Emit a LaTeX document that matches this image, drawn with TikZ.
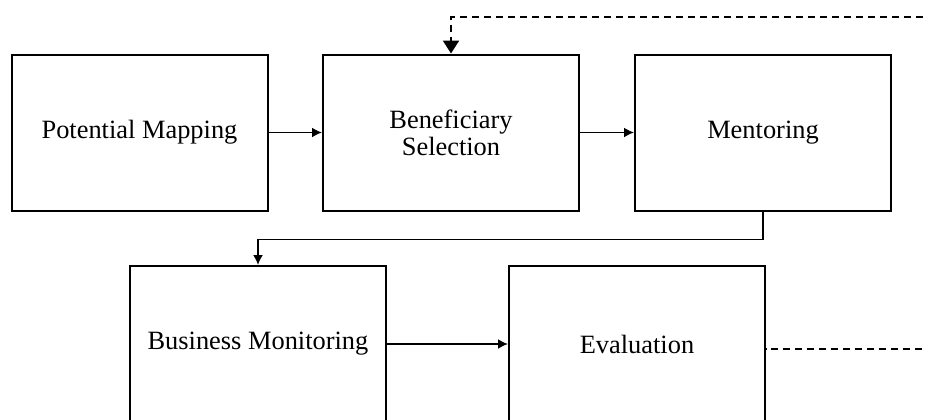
\documentclass[tikz,border=0pt]{standalone}
\usepackage{fontspec}
\setmainfont{Liberation Serif}
\usetikzlibrary{arrows.meta,shadows}
\begin{document}
\begin{tikzpicture}[x=0.5pt,y=-0.5pt,
  stage/.style={draw, line width=1pt, fill=white,
    minimum width=128pt, minimum height=78pt, inner sep=0pt,
    align=center, font=\fontsize{13.2}{13.5}\selectfont,
    drop shadow={shadow xshift=0.7pt, shadow yshift=-0.9pt, opacity=0.22, fill=black}},
  flow/.style={line width=0.9pt, -{Latex[length=5pt,width=5pt]}},
  loop/.style={line width=1.1pt, dash pattern=on 3.6pt off 2.4pt, dash phase=-2.5pt,
    -{Triangle[length=6.5pt,width=8pt]}}]
\useasboundingbox (0,0) rectangle (927,419);
\clip (0,0) rectangle (927,419);

% process stages
\node[stage] (pm) at (139.5,132.5) {Potential Mapping};
\node[stage] (bs) at (451,132.5) {Beneficiary\\Selection};
\node[stage] (me) at (763,132.5) {Mentoring};
\node[stage] (bm) at (258,344) {Business Monitoring};
\node[stage] (ev) at (637,344) {Evaluation};

% main flow
\draw[flow] (pm) -- (bs);
\draw[flow] (bs) -- (me);
\draw[flow] (me.south) -- ++(0,28) -| (bm.north);
\draw[flow] (bm) -- (ev);

% feedback loop from evaluation back to selection
\coordinate (ls) at ([yshift=-2.5pt]ev.east);
\coordinate (c1) at (945,349);
\coordinate (c2) at (945,17);
\draw[loop] (ls) -- (c1) -- (c2) -| (bs.north);
\end{tikzpicture}
\end{document}
